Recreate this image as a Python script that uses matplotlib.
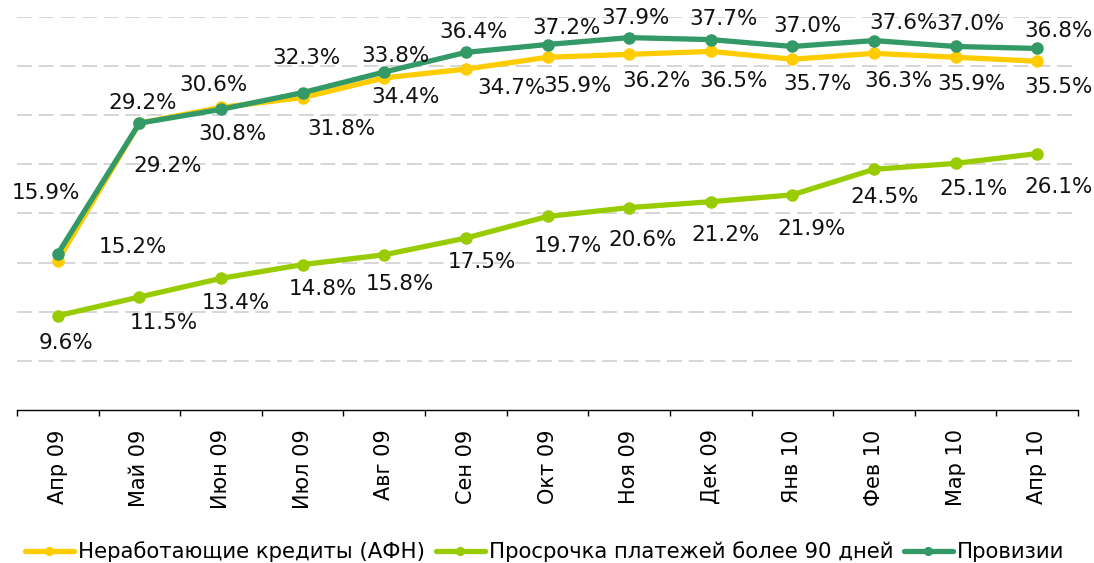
import numpy as np
import matplotlib
matplotlib.use('Agg')
from matplotlib import pyplot as plt

# данные
months = ['Апр 09', 'Май 09', 'Июн 09', 'Июл 09', 'Авг 09', 'Сен 09', 'Окт 09',
          'Ноя 09', 'Дек 09', 'Янв 10', 'Фев 10', 'Мар 10', 'Апр 10']
npl_afn = [15.2, 29.2, 30.8, 31.8, 33.8, 34.7, 35.9, 36.2, 36.5, 35.7, 36.3, 35.9, 35.5]
overdue_90 = [9.6, 11.5, 13.4, 14.8, 15.8, 17.5, 19.7, 20.6, 21.2, 21.9, 24.5, 25.1, 26.1]
provisions = [15.9, 29.2, 30.6, 32.3, 34.4, 36.4, 37.2, 37.9, 37.7, 37.0, 37.6, 37.0, 36.8]

names = ['Неработающие кредиты (АФН)', 'Просрочка платежей более 90 дней', 'Провизии']
colors = ['#FFCC00', '#99CC00', '#339966']

# смещения подписей (в пикселях, dx вправо, dy вниз)
off_npl = [(75, -14), (28, 43), (11, 27), (39, 31), (11, -22), (46, 19), (30, 29),
           (27, 27), (23, 30), (25, 25), (24, 28), (16, 27), (21, 26)]
off_ovd = [(8, 27), (24, 26), (15, 25), (20, 24), (16, 29), (16, 24), (20, 30),
           (13, 32), (15, 33), (19, 34), (11, 28), (18, 26), (21, 33)]
off_prov = [(-12, -61), (3, -20), (-8, -24), (4, -35), (21, 25), (8, -20), (19, -17),
            (6, -20), (13, -21), (15, -20), (30, -18), (15, -22), (21, -17)]

plt.rcParams['font.family'] = ['DejaVu Sans']

fig = plt.figure(figsize=(10.94, 5.63), dpi=100)
ax = fig.add_axes([17/1094, 153/563, 1061/1094, 393/563])

x = np.arange(len(months))
series = [npl_afn, overdue_90, provisions]
offsets = [off_npl, off_ovd, off_prov]
for vals, name, c in zip(series, names, colors):
    ax.plot(x, vals, color=c, lw=3.8, marker='o', ms=8, label=name,
            solid_capstyle='round', solid_joinstyle='round')

for vals, offs in zip(series, offsets):
    for i, v in enumerate(vals):
        dx, dy = offs[i]
        ax.annotate('%.1f%%' % v, (x[i], v), xytext=(dx, -dy), textcoords='offset pixels',
                    ha='center', va='center', fontsize=15.5, color='#111111',
                    annotation_clip=False)

ax.set_xlim(-0.5, len(months) - 0.5)
ax.set_ylim(0, 40)
ax.set_yticks(np.arange(5, 41, 5))
ax.yaxis.grid(True, color='#d0d0d0', lw=1.2, linestyle=(0, (9, 4)))
ax.tick_params(axis='y', left=False, labelleft=False)
ax.set_axisbelow(True)

ax.set_xticks(np.arange(-0.5, len(months), 1))
ax.set_xticklabels([])
ax.set_xticks(x, minor=True)
ax.set_xticklabels(months, minor=True, rotation=90, fontsize=15)
ax.tick_params(axis='x', which='major', length=4, width=1, color='black')
ax.tick_params(axis='x', which='minor', length=0, pad=14)

for s in ['top', 'right', 'left']:
    ax.spines[s].set_visible(False)
ax.spines['bottom'].set_color('black')
ax.spines['bottom'].set_linewidth(1)

fig.legend(loc='center', bbox_to_anchor=(0.498, 0.02), ncol=3, frameon=False,
           fontsize=15.3, handlelength=2.3, handletextpad=0.2, columnspacing=0.5,
           markerscale=0.7, borderaxespad=0, borderpad=0)

fig.savefig('out.png', dpi=100)
